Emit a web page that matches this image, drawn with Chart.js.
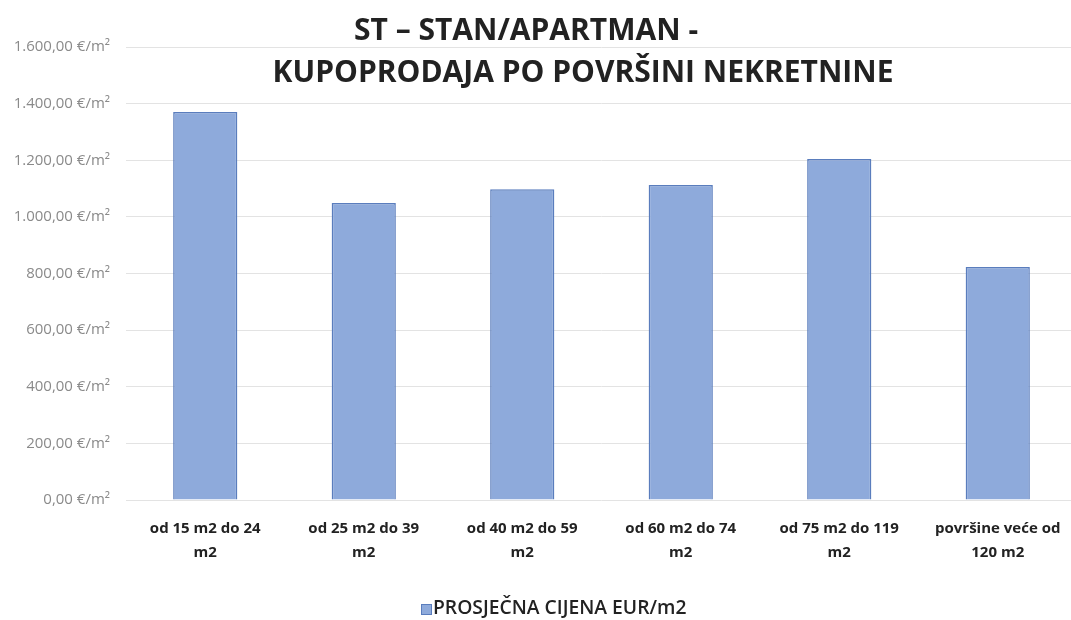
<!DOCTYPE html>
<html lang="hr">
<head>
    <meta charset="UTF-8">
    <script src="https://cdn.jsdelivr.net/npm/chart.js"></script>
    <title>ST - stan/apartman</title>
    <style>
        html, body { margin: 0; padding: 0; background: #fff; overflow: hidden; }
        .okvir { position: relative; width: 1071px; height: 620px; overflow: hidden; }
        .naslov {
            position: absolute; left: 0; top: 0; width: 1071px;
            font-family: "Open Sans", sans-serif; font-weight: bold; font-size: 30px;
            color: #222; pointer-events: none;
        }
        .naslov div { position: absolute; white-space: nowrap; transform: translateX(-50%); }
        .legenda {
            position: absolute; left: 421px; top: 594px; height: 26px; line-height: 26px;
            font-family: "Open Sans", sans-serif; font-weight: 600; font-size: 19.3px;
            color: #222; white-space: nowrap;
        }
        .legenda .kutija {
            display: inline-block; width: 9px; height: 9px; margin-right: 1px;
            vertical-align: -1px; border: 1px solid #5a7dbd;
        }
    </style>
</head>
<body>
<div class="okvir">
    <!-- platno je malo šire od okvira: desni rub izvornog grafikona je odrezan -->
    <canvas id="Grafikon" width="1077" height="620"></canvas>
    <div class="naslov">
        <div style="left:526px; top:8px;">ST – STAN/APARTMAN -</div>
        <div style="left:583px; top:50px;">KUPOPRODAJA PO POVRŠINI NEKRETNINE</div>
    </div>
    <div class="legenda" id="legenda"></div>
</div>
<script>

// kategorije (površina nekretnine)
const kategorije = [
    ['od 15 m2 do 24', 'm2'],
    ['od 25 m2 do 39', 'm2'],
    ['od 40 m2 do 59', 'm2'],
    ['od 60 m2 do 74', 'm2'],
    ['od 75 m2 do 119', 'm2'],
    ['površine veće od', '120 m2']
]
// prosječna cijena EUR/m2 (očitano sa slike)
const cijene = [1370, 1049, 1098, 1113, 1204, 823]
const nazivSerije = 'PROSJEČNA CIJENA EUR/m2'
const yMin = 0
const yMax = 1600
const yKorak = 200

function formatCijena(v) {
    const s = v.toFixed(2).split('.')
    const cijeli = s[0].replace(/\B(?=(\d{3})+(?!\d))/g, '.')
    return cijeli + ',' + s[1] + ' €/m²'
}

const Grafikon = document.getElementById('Grafikon')

const grafikon = new Chart(Grafikon, {
    type: 'bar',
    data: {
        labels: kategorije,
        datasets: [{
            label: nazivSerije,
            data: cijene,
            backgroundColor: '#8eaadb',
            borderColor: '#5a7dbd',
            borderWidth: 1.5,
            barPercentage: 0.405,
            categoryPercentage: 1
        }]
    },
    options: {
        responsive: false,
        animation: false,
        layout: {
            padding: { top: 47, right: 0, bottom: 0, left: 0 }
        },
        plugins: {
            tooltip: { enabled: false },
            legend: { display: false }
        },
        scales: {
            x: {
                grid: { display: false },
                border: { display: false },
                afterFit: function (skala) { skala.height = 120 },
                ticks: {
                    color: '#222',
                    maxRotation: 0,
                    padding: 9,
                    font: { family: 'Open Sans', size: 15, weight: 'bold', lineHeight: 1.6 }
                }
            },
            y: {
                min: yMin,
                max: yMax,
                border: { display: false },
                grid: { color: '#e3e3e3', lineWidth: 1, drawTicks: false },
                afterFit: function (skala) { skala.width = 126 },
                ticks: {
                    stepSize: yKorak,
                    padding: 16,
                    color: '#8a8a8a',
                    font: { family: 'Open Sans', size: 15 },
                    callback: v => formatCijena(v)
                }
            }
        }
    }
});

// legenda kao HTML, iz podataka grafikona
const legenda = document.getElementById('legenda')
grafikon.data.datasets.forEach(ds => {
    const kutija = document.createElement('span')
    kutija.className = 'kutija'
    kutija.style.background = ds.backgroundColor
    kutija.style.borderColor = ds.borderColor
    legenda.appendChild(kutija)
    legenda.appendChild(document.createTextNode(ds.label))
})

</script>
</body>
</html>
